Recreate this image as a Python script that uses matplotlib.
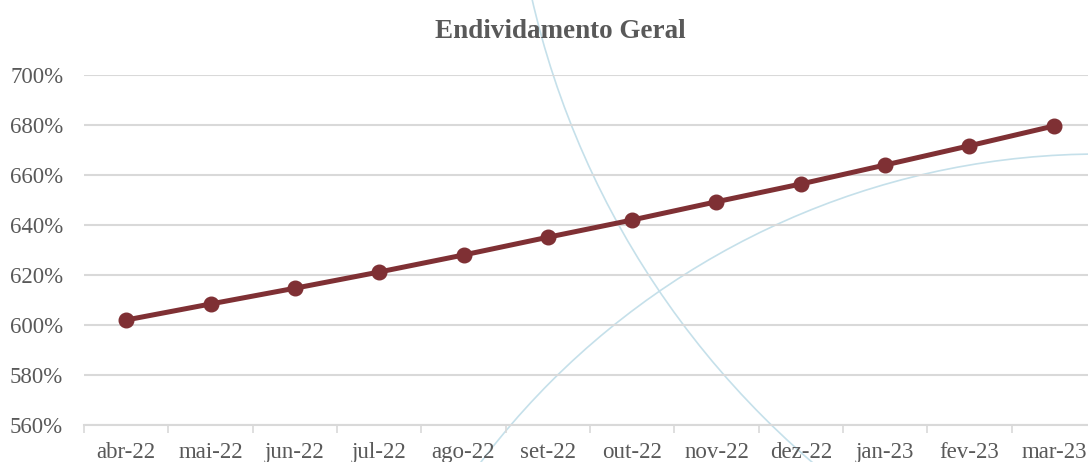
import matplotlib
matplotlib.use("Agg")
import matplotlib.pyplot as plt
from matplotlib.patches import Circle
from matplotlib.transforms import Affine2D

# data
months = ['abr-22', 'mai-22', 'jun-22', 'jul-22', 'ago-22', 'set-22',
          'out-22', 'nov-22', 'dez-22', 'jan-23', 'fev-23', 'mar-23']
endividamento = [602.0, 608.4, 614.7, 621.2, 628.0, 635.1,
                 642.0, 649.3, 656.4, 664.0, 671.7, 679.6]
yticks = [560, 580, 600, 620, 640, 660, 680, 700]

textColor = '#595959'
lineColor = '#7F3034'
gridColor = '#D9D9D9'
decoColor = '#C5E0EA'

plt.rcParams['font.family'] = ['Liberation Serif', 'DejaVu Serif']

fig = plt.figure(figsize=(10.88, 4.62), dpi=100)
ax = fig.add_axes([84/1088, 37/462, 1012/1088, 350/462])
ax.patch.set_alpha(0)

# decorative arcs in the background (pixel coords, y down)
pix = Affine2D().scale(0.01, -0.01).translate(0, 4.62) + fig.dpi_scale_trans
for (cx, cy, r) in [(1376, -195, 866), (1100, 930, 776)]:
    c = Circle((cx, cy), r, transform=pix, fill=False, edgecolor=decoColor,
               linewidth=1.2, zorder=0)
    fig.add_artist(c)

x = list(range(len(months)))
ax.plot(x, endividamento, color=lineColor, linewidth=3.6, marker='o',
        markersize=10.5, zorder=3, clip_on=False)

ax.set_xlim(-0.5, len(months) - 0.5)
ax.set_ylim(560, 700)
ax.set_yticks(yticks)
ax.set_yticklabels([str(v) + '%' for v in yticks])
ax.yaxis.grid(True, color=gridColor, linewidth=1.5)
ax.set_axisbelow(True)

ax.set_xticks([i - 0.5 for i in range(len(months) + 1)])
ax.set_xticklabels([])
ax.set_xticks(x, minor=True)
ax.set_xticklabels(months, minor=True)
ax.tick_params(axis='x', which='major', length=6, width=1.2, color=gridColor)
ax.tick_params(axis='x', which='minor', length=0, pad=12, labelsize=16.5,
               labelcolor=textColor)
ax.tick_params(axis='y', length=0, pad=15, labelsize=16.5, labelcolor=textColor)

for side in ['top', 'right', 'left']:
    ax.spines[side].set_visible(False)
ax.spines['bottom'].set_color(gridColor)
ax.spines['bottom'].set_linewidth(1.5)

fig.text(560/1088, 1 - 31/462, 'Endividamento Geral', ha='center', va='center',
         fontsize=19.5, fontweight='bold', color=textColor)

fig.savefig('out.png', dpi=100)
